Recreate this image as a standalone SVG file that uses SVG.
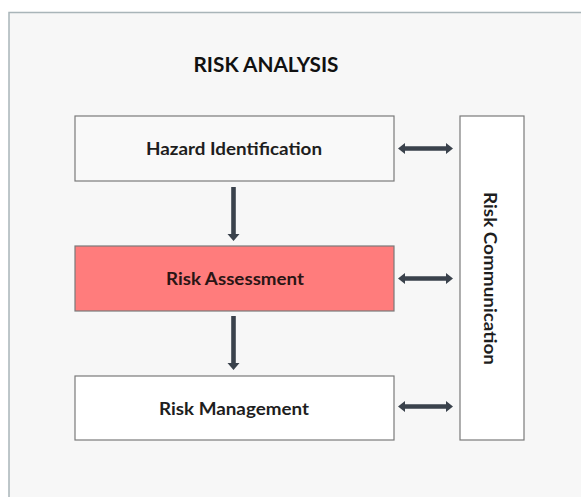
<svg xmlns="http://www.w3.org/2000/svg" width="581" height="497" viewBox="0 0 581 497">
<style>
.box{stroke:#7a7a7a;stroke-width:1.2}
.lbl{font-family:Lato,"Open Sans","Liberation Sans",sans-serif;font-weight:bold;font-size:16.5px;fill:#1e1e1e;text-anchor:middle}
.title{font-family:Lato,"Open Sans","Liberation Sans",sans-serif;font-weight:bold;font-size:21px;fill:#111;text-anchor:middle}
.arr{fill:#3a424c}
</style>
<defs>
<path id="harrow" d="M0,0 L7,-5.5 L7,-2.3 L48,-2.3 L48,-5.5 L55,0 L48,5.5 L48,2.3 L7,2.3 L7,5.5 Z"/>
</defs>
<rect x="0" y="0" width="581" height="497" fill="#ffffff"/>
<rect x="9" y="12.5" width="580" height="500" fill="#f7f7f7" stroke="#a9b5b9" stroke-width="1.5"/>
<g id="title">
<text class="title" x="266" y="72" textLength="145" lengthAdjust="spacingAndGlyphs">RISK ANALYSIS</text>
</g>
<g id="hazard">
<rect class="box" x="75" y="116" width="319" height="65" fill="#f9f9f9"/>
<text class="lbl" x="234" y="154.5" textLength="176" lengthAdjust="spacingAndGlyphs">Hazard Identification</text>
</g>
<g id="assessment">
<rect class="box" x="75" y="246" width="319" height="65" fill="#ff7c7c"/>
<text class="lbl" x="235" y="284.5" textLength="138" lengthAdjust="spacingAndGlyphs" style="fill:#2a1515">Risk Assessment</text>
</g>
<g id="management">
<rect class="box" x="75" y="376" width="319" height="64" fill="#ffffff"/>
<text class="lbl" x="234" y="414.5" textLength="150" lengthAdjust="spacingAndGlyphs">Risk Management</text>
</g>
<g id="communication">
<rect class="box" x="460" y="116" width="64" height="324" fill="#ffffff"/>
<text class="lbl" transform="translate(484,278.5) rotate(90)" x="0" y="0" textLength="173" lengthAdjust="spacingAndGlyphs">Risk Communication</text>
</g>
<g id="connectors">
<path class="arr" d="M231.2,187 L235.8,187 L235.8,234 L239.5,234 L233.5,241 L227.5,234 L231.2,234 Z"/>
<path class="arr" d="M231.2,316 L235.8,316 L235.8,363 L239.5,363 L233.5,370 L227.5,363 L231.2,363 Z"/>
<use href="#harrow" class="arr" x="398" y="148.5"/>
<use href="#harrow" class="arr" x="398" y="278.5"/>
<use href="#harrow" class="arr" x="398" y="406.5"/>
</g>
</svg>
